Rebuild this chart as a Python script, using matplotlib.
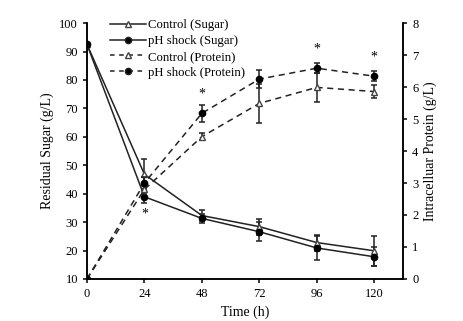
import matplotlib.pyplot as plt
from matplotlib.lines import Line2D

plt.rcParams['font.family'] = ['Liberation Serif', 'DejaVu Serif']

## Data
time = [0, 24, 48, 72, 96, 120]
sugar_ctrl = [92.5, 46.8, 32.3, 28.4, 22.8, 19.9]
sugar_ctrl_err = [0, 5.5, 1.8, 2.8, 2.8, 5.2]
sugar_ph = [92.5, 38.9, 31.3, 26.6, 20.9, 17.8]
sugar_ph_err = [0, 2.3, 1.5, 3.3, 4.3, 3.4]
prot_ctrl = [0, 2.8, 4.45, 5.49, 5.99, 5.86]
prot_ctrl_err = [0, 0.15, 0.12, 0.6, 0.45, 0.2]
prot_ph = [0, 3.0, 5.18, 6.25, 6.59, 6.34]
prot_ph_err = [0, 0.2, 0.27, 0.27, 0.15, 0.15]
star_x = [24, 48, 96, 120]
star_y = [33.0, 75.0, 91.0, 88.0]

fig = plt.figure(figsize=(4.64, 3.21), dpi=100)
ax = fig.add_axes([0.1875, 0.131, 0.681, 0.797])
ax2 = ax.twinx()

ebk = dict(capsize=2.5, elinewidth=1.1, capthick=1.1, ecolor='#222222')
ax.errorbar(time, sugar_ctrl, yerr=sugar_ctrl_err, color='#222222', lw=1.1,
            marker='^', ms=4.5, mfc='white', mec='#444444', **ebk)
ax.errorbar(time, sugar_ph, yerr=sugar_ph_err, color='#222222', lw=1.1,
            marker='o', ms=4.5, mfc='black', mec='black', **ebk)
ax2.errorbar(time, prot_ctrl, yerr=prot_ctrl_err, color='#222222', lw=1.1,
             ls=(0, (4, 3)), marker='^', ms=4.5, mfc='white', mec='#444444', **ebk)
ax2.errorbar(time, prot_ph, yerr=prot_ph_err, color='#222222', lw=1.1,
             ls=(0, (4, 3)), marker='o', ms=4.5, mfc='black', mec='black', **ebk)

for sx, sy in zip(star_x, star_y):
    ax.text(sx, sy, '*', ha='center', va='center', fontsize=10)

## Axes config
ax.set_xlim(0, 132)
ax.set_ylim(10, 100)
ax2.set_ylim(0, 8)
ax.set_xticks(time)
ax.set_yticks(range(10, 101, 10))
ax2.set_yticks(range(0, 9))
for a in (ax, ax2):
    a.spines['top'].set_visible(False)
    for s in a.spines.values():
        s.set_linewidth(1.1)
    a.tick_params(direction='out', length=3, width=1.1, labelsize=9)
ax.set_xlabel('Time (h)', fontsize=10)
ax.set_ylabel('Residual Sugar (g/L)', fontsize=10)
ax2.set_ylabel('Intracelluar Protein (g/L)', fontsize=10)

handles = [
    Line2D([], [], color='#222222', lw=1.1, marker='^', ms=4.5, mfc='white', mec='#444444'),
    Line2D([], [], color='#222222', lw=1.1, marker='o', ms=4.5, mfc='black'),
    Line2D([], [], color='#222222', lw=1.1, ls=(0, (3, 3)), marker='^', ms=4.5, mfc='white', mec='#444444'),
    Line2D([], [], color='#222222', lw=1.1, ls=(0, (3, 3)), marker='o', ms=4.5, mfc='black'),
]
labels = ['Control (Sugar)', 'pH shock (Sugar)', 'Control (Protein)', 'pH shock (Protein)']
ax.legend(handles, labels, loc='upper left', bbox_to_anchor=(0.045, 1.05), frameon=False,
          fontsize=9.2, handlelength=2.8, labelspacing=0.3, handletextpad=0.2, borderpad=0.2)

plt.savefig('out.png')
